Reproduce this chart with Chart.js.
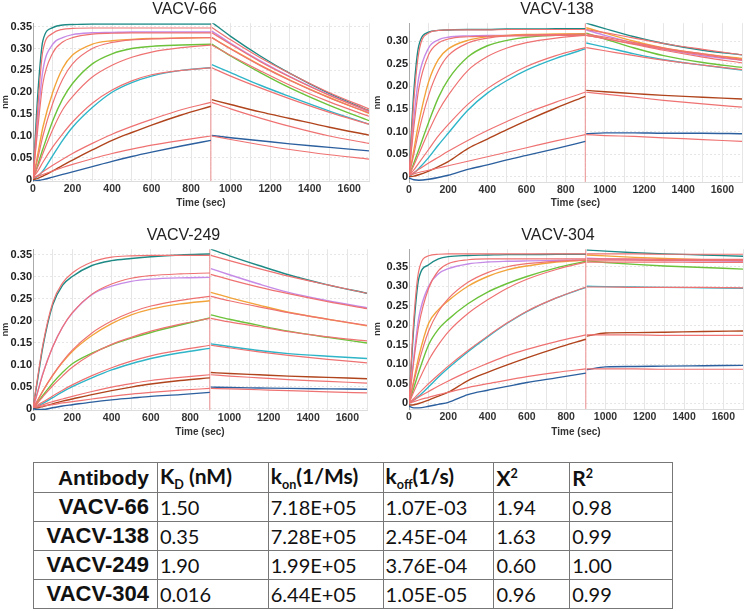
<!DOCTYPE html>
<html>
<head>
<meta charset="utf-8">
<script src="https://cdn.jsdelivr.net/npm/chart.js@4.4.1/dist/chart.umd.min.js"></script>
<style>
  body { margin: 0; background: #fff; width: 745px; height: 611px; position: relative; overflow: hidden; }
  canvas { position: absolute; }
  #c66 { left: 0; top: 0; }
  #c138 { left: 372px; top: 0; }
  #c249 { left: 0; top: 226px; }
  #c304 { left: 372px; top: 226px; }
  table { position: absolute; left: 33px; top: 462px; width: 640px; border-collapse: collapse; }
  td { border: 1px solid #777; height: 28px; padding: 0 0 0 2px; font-family: Lato, "Open Sans", sans-serif; font-size: 20px; color: #111; vertical-align: middle; white-space: nowrap; }
  td.ab { font-family: "Liberation Sans", Arial, sans-serif; font-weight: bold; font-size: 22px; text-align: right; padding: 0 8px 0 0; }
  tr.head td { font-weight: bold; font-size: 21px; height: 29px; }
  sub, sup { font-size: 60%; }
</style>
</head>
<body>
<canvas id="c66" width="372" height="212"></canvas>
<canvas id="c138" width="373" height="212"></canvas>
<canvas id="c249" width="372" height="215"></canvas>
<canvas id="c304" width="373" height="215"></canvas>

<table>
  <colgroup>
    <col style="width:124px"><col style="width:111px"><col style="width:115px">
    <col style="width:111px"><col style="width:76px"><col style="width:103px">
  </colgroup>
  <tr class="head"><td class="ab">Antibody</td><td>K<sub>D</sub> (nM)</td><td>k<sub>on</sub>(1/Ms)</td><td>k<sub>off</sub>(1/s)</td><td>X<sup>2</sup></td><td>R<sup>2</sup></td></tr>
  <tr><td class="ab">VACV-66</td><td>1.50</td><td>7.18E+05</td><td>1.07E-03</td><td>1.94</td><td>0.98</td></tr>
  <tr><td class="ab">VACV-138</td><td>0.35</td><td>7.28E+05</td><td>2.45E-04</td><td>1.63</td><td>0.99</td></tr>
  <tr><td class="ab">VACV-249</td><td>1.90</td><td>1.99E+05</td><td>3.76E-04</td><td>0.60</td><td>1.00</td></tr>
  <tr><td class="ab">VACV-304</td><td>0.016</td><td>6.44E+05</td><td>1.05E-05</td><td>0.96</td><td>0.99</td></tr>
</table>

<script>
// time points (sec): association then dissociation
const assocTimes = [0, 25, 50, 100, 150, 200, 300, 400, 500, 600, 750, 900];
const dissocTimes = [905, 1000, 1150, 1300, 1500, 1700];

// curve colours, lowest to highest concentration
const curveColors = ['#2b5f9e', '#b0441c', '#2fb5c8', '#6cc23a', '#f2a33a', '#c58be6', '#1e8a86'];
const fitColor = '#ef7272';

// measured responses (nm): blue, brown, cyan, green, orange, purple, teal
const vacv66Obs = [
  [-0.003, -0.002, 0.000, 0.006, 0.012, 0.018, 0.030, 0.042, 0.053, 0.063, 0.077, 0.090, 0.101, 0.096, 0.089, 0.082, 0.074, 0.066],
  [0.000, 0.003, 0.008, 0.020, 0.033, 0.045, 0.068, 0.090, 0.108, 0.125, 0.148, 0.168, 0.183, 0.172, 0.155, 0.140, 0.120, 0.102],
  [0.000, 0.008, 0.020, 0.055, 0.090, 0.120, 0.165, 0.200, 0.222, 0.237, 0.250, 0.256, 0.263, 0.245, 0.216, 0.190, 0.157, 0.127],
  [0.000, 0.035, 0.070, 0.135, 0.185, 0.220, 0.265, 0.288, 0.300, 0.305, 0.308, 0.310, 0.310, 0.283, 0.245, 0.210, 0.170, 0.135],
  [0.000, 0.060, 0.120, 0.200, 0.255, 0.285, 0.310, 0.318, 0.321, 0.323, 0.324, 0.325, 0.325, 0.300, 0.262, 0.228, 0.188, 0.152],
  [0.000, 0.140, 0.250, 0.310, 0.325, 0.332, 0.336, 0.337, 0.338, 0.338, 0.338, 0.338, 0.340, 0.312, 0.272, 0.236, 0.194, 0.156],
  [0.000, 0.200, 0.318, 0.348, 0.354, 0.355, 0.356, 0.356, 0.356, 0.356, 0.356, 0.356, 0.360, 0.328, 0.283, 0.243, 0.197, 0.158]
];
const vacv66Fit = [
  [0.004, 0.008, 0.012, 0.020, 0.028, 0.035, 0.048, 0.060, 0.070, 0.079, 0.090, 0.100, 0.100, 0.092, 0.080, 0.069, 0.057, 0.047],
  [0.003, 0.010, 0.018, 0.033, 0.047, 0.060, 0.083, 0.104, 0.122, 0.138, 0.160, 0.177, 0.177, 0.162, 0.141, 0.122, 0.100, 0.083],
  [0.005, 0.020, 0.040, 0.075, 0.105, 0.132, 0.175, 0.205, 0.226, 0.240, 0.250, 0.256, 0.256, 0.237, 0.210, 0.185, 0.154, 0.127],
  [0.005, 0.030, 0.060, 0.115, 0.160, 0.190, 0.235, 0.262, 0.280, 0.292, 0.302, 0.308, 0.308, 0.284, 0.249, 0.216, 0.178, 0.145],
  [0.005, 0.050, 0.100, 0.175, 0.230, 0.265, 0.300, 0.314, 0.320, 0.322, 0.324, 0.325, 0.325, 0.299, 0.261, 0.227, 0.187, 0.153],
  [0.005, 0.120, 0.220, 0.290, 0.315, 0.325, 0.333, 0.335, 0.336, 0.336, 0.336, 0.336, 0.336, 0.310, 0.270, 0.235, 0.193, 0.157],
  [0.005, 0.170, 0.295, 0.335, 0.344, 0.346, 0.347, 0.347, 0.347, 0.347, 0.347, 0.347, 0.348, 0.320, 0.279, 0.243, 0.199, 0.162]
];

const vacv138Obs = [
  [-0.003, -0.007, -0.008, -0.006, -0.002, 0.003, 0.016, 0.026, 0.037, 0.047, 0.062, 0.078, 0.095, 0.097, 0.097, 0.096, 0.096, 0.095],
  [0.000, 0.001, 0.004, 0.012, 0.022, 0.033, 0.062, 0.083, 0.104, 0.124, 0.152, 0.178, 0.191, 0.188, 0.184, 0.180, 0.176, 0.172],
  [0.000, 0.008, 0.018, 0.042, 0.070, 0.096, 0.147, 0.185, 0.213, 0.236, 0.262, 0.283, 0.296, 0.287, 0.272, 0.259, 0.247, 0.236],
  [0.000, 0.030, 0.060, 0.120, 0.175, 0.215, 0.265, 0.290, 0.302, 0.309, 0.313, 0.315, 0.318, 0.305, 0.285, 0.268, 0.253, 0.242],
  [0.000, 0.060, 0.120, 0.210, 0.260, 0.283, 0.302, 0.310, 0.313, 0.315, 0.316, 0.317, 0.330, 0.318, 0.300, 0.285, 0.272, 0.262],
  [0.000, 0.130, 0.220, 0.285, 0.303, 0.309, 0.312, 0.313, 0.313, 0.314, 0.314, 0.314, 0.325, 0.313, 0.296, 0.282, 0.268, 0.258],
  [0.000, 0.190, 0.290, 0.320, 0.324, 0.325, 0.326, 0.326, 0.327, 0.327, 0.328, 0.328, 0.340, 0.328, 0.310, 0.295, 0.280, 0.270]
];
const vacv138Fit = [
  [0.003, 0.006, 0.009, 0.014, 0.019, 0.024, 0.034, 0.044, 0.054, 0.064, 0.079, 0.093, 0.093, 0.091, 0.089, 0.086, 0.082, 0.078],
  [0.003, 0.009, 0.016, 0.030, 0.043, 0.056, 0.080, 0.102, 0.122, 0.141, 0.165, 0.187, 0.187, 0.183, 0.176, 0.169, 0.161, 0.154],
  [0.004, 0.015, 0.030, 0.060, 0.090, 0.115, 0.160, 0.195, 0.222, 0.244, 0.268, 0.286, 0.286, 0.279, 0.268, 0.258, 0.247, 0.237],
  [0.004, 0.025, 0.050, 0.100, 0.145, 0.180, 0.235, 0.266, 0.285, 0.297, 0.307, 0.313, 0.313, 0.306, 0.293, 0.280, 0.265, 0.252],
  [0.004, 0.050, 0.100, 0.180, 0.235, 0.268, 0.296, 0.307, 0.312, 0.314, 0.315, 0.316, 0.316, 0.309, 0.297, 0.285, 0.272, 0.260],
  [0.004, 0.110, 0.195, 0.270, 0.296, 0.305, 0.310, 0.311, 0.312, 0.312, 0.313, 0.313, 0.313, 0.306, 0.294, 0.283, 0.270, 0.258],
  [0.004, 0.170, 0.275, 0.318, 0.324, 0.325, 0.325, 0.325, 0.326, 0.326, 0.326, 0.326, 0.326, 0.319, 0.307, 0.295, 0.282, 0.270]
];

const vacv249Obs = [
  [0.000, -0.002, -0.002, 0.002, 0.006, 0.009, 0.015, 0.020, 0.024, 0.028, 0.032, 0.037, 0.049, 0.048, 0.047, 0.046, 0.045, 0.044],
  [0.000, 0.002, 0.005, 0.011, 0.017, 0.022, 0.032, 0.041, 0.049, 0.056, 0.064, 0.070, 0.082, 0.080, 0.077, 0.074, 0.071, 0.068],
  [0.000, 0.006, 0.012, 0.025, 0.038, 0.050, 0.070, 0.088, 0.102, 0.114, 0.127, 0.137, 0.147, 0.141, 0.132, 0.125, 0.119, 0.114],
  [0.000, 0.015, 0.030, 0.058, 0.082, 0.102, 0.126, 0.145, 0.160, 0.173, 0.190, 0.206, 0.213, 0.203, 0.189, 0.176, 0.162, 0.149],
  [0.000, 0.020, 0.040, 0.075, 0.105, 0.130, 0.166, 0.193, 0.213, 0.226, 0.238, 0.245, 0.264, 0.252, 0.235, 0.219, 0.203, 0.188],
  [0.000, 0.040, 0.080, 0.140, 0.185, 0.217, 0.259, 0.278, 0.289, 0.294, 0.297, 0.298, 0.318, 0.304, 0.283, 0.264, 0.245, 0.229],
  [0.000, 0.070, 0.140, 0.235, 0.280, 0.300, 0.325, 0.336, 0.341, 0.345, 0.349, 0.351, 0.362, 0.347, 0.325, 0.304, 0.281, 0.262]
];
const vacv249Fit = [
  [0.003, 0.004, 0.006, 0.009, 0.013, 0.016, 0.022, 0.028, 0.033, 0.037, 0.042, 0.046, 0.046, 0.045, 0.043, 0.041, 0.038, 0.036],
  [0.003, 0.006, 0.009, 0.016, 0.022, 0.028, 0.039, 0.049, 0.057, 0.064, 0.071, 0.077, 0.077, 0.074, 0.070, 0.066, 0.062, 0.058],
  [0.003, 0.009, 0.015, 0.029, 0.042, 0.054, 0.075, 0.093, 0.108, 0.120, 0.133, 0.144, 0.144, 0.138, 0.129, 0.121, 0.112, 0.104],
  [0.003, 0.014, 0.027, 0.052, 0.074, 0.094, 0.124, 0.146, 0.162, 0.176, 0.192, 0.205, 0.205, 0.197, 0.186, 0.175, 0.163, 0.154],
  [0.003, 0.020, 0.040, 0.076, 0.107, 0.133, 0.172, 0.199, 0.219, 0.233, 0.246, 0.255, 0.255, 0.245, 0.231, 0.218, 0.203, 0.189],
  [0.003, 0.040, 0.078, 0.140, 0.185, 0.218, 0.260, 0.283, 0.296, 0.302, 0.306, 0.308, 0.305, 0.293, 0.276, 0.261, 0.243, 0.227],
  [0.003, 0.075, 0.145, 0.240, 0.285, 0.308, 0.333, 0.344, 0.347, 0.348, 0.348, 0.348, 0.348, 0.336, 0.318, 0.301, 0.281, 0.262]
];

const vacv304Obs = [
  [-0.008, -0.012, -0.012, -0.008, -0.003, 0.002, 0.022, 0.033, 0.043, 0.053, 0.065, 0.077, 0.086, 0.093, 0.094, 0.095, 0.096, 0.097],
  [-0.005, -0.004, -0.001, 0.008, 0.018, 0.028, 0.058, 0.079, 0.098, 0.116, 0.141, 0.164, 0.172, 0.180, 0.181, 0.182, 0.184, 0.185],
  [0.000, 0.008, 0.018, 0.042, 0.067, 0.090, 0.132, 0.170, 0.205, 0.235, 0.270, 0.297, 0.300, 0.299, 0.298, 0.297, 0.296, 0.295],
  [0.000, 0.040, 0.080, 0.150, 0.190, 0.215, 0.255, 0.285, 0.307, 0.325, 0.347, 0.364, 0.365, 0.361, 0.356, 0.352, 0.348, 0.344],
  [0.000, 0.060, 0.120, 0.205, 0.240, 0.263, 0.300, 0.325, 0.342, 0.352, 0.362, 0.367, 0.380, 0.378, 0.374, 0.371, 0.368, 0.366],
  [0.000, 0.120, 0.220, 0.300, 0.332, 0.345, 0.357, 0.362, 0.364, 0.365, 0.366, 0.367, 0.372, 0.370, 0.368, 0.366, 0.365, 0.364],
  [0.000, 0.200, 0.320, 0.355, 0.370, 0.376, 0.379, 0.380, 0.381, 0.381, 0.382, 0.382, 0.393, 0.390, 0.386, 0.383, 0.380, 0.377]
];
const vacv304Fit = [
  [0.000, 0.004, 0.008, 0.015, 0.022, 0.028, 0.040, 0.050, 0.059, 0.068, 0.079, 0.088, 0.088, 0.088, 0.088, 0.087, 0.087, 0.087],
  [0.000, 0.008, 0.016, 0.030, 0.044, 0.057, 0.081, 0.102, 0.122, 0.138, 0.158, 0.175, 0.175, 0.175, 0.175, 0.174, 0.174, 0.174],
  [0.000, 0.012, 0.025, 0.050, 0.073, 0.095, 0.135, 0.172, 0.206, 0.236, 0.270, 0.298, 0.298, 0.298, 0.297, 0.297, 0.297, 0.296],
  [0.000, 0.030, 0.058, 0.110, 0.150, 0.183, 0.230, 0.265, 0.295, 0.318, 0.343, 0.362, 0.362, 0.362, 0.362, 0.362, 0.361, 0.361],
  [0.000, 0.055, 0.105, 0.185, 0.235, 0.268, 0.310, 0.335, 0.350, 0.358, 0.364, 0.367, 0.367, 0.367, 0.367, 0.366, 0.366, 0.366],
  [0.000, 0.110, 0.200, 0.295, 0.340, 0.358, 0.368, 0.370, 0.370, 0.370, 0.370, 0.370, 0.370, 0.370, 0.370, 0.369, 0.369, 0.369],
  [0.000, 0.220, 0.340, 0.378, 0.382, 0.383, 0.383, 0.383, 0.383, 0.383, 0.383, 0.383, 0.383, 0.383, 0.383, 0.382, 0.382, 0.382]
];

// y tick labels
const yTickLabels = ['0', '0.05', '0.10', '0.15', '0.20', '0.25', '0.30', '0.35'];

const panels = [
  { id: 'c66', title: 'VACV-66', obs: vacv66Obs, fit: vacv66Fit, yMin: -0.003, yMax: 0.358, yW: 33, xH: 31, padR: 3 },
  { id: 'c138', title: 'VACV-138', obs: vacv138Obs, fit: vacv138Fit, yMin: -0.012, yMax: 0.34, yW: 37, xH: 30, padR: 3 },
  { id: 'c249', title: 'VACV-249', obs: vacv249Obs, fit: vacv249Fit, yMin: -0.003, yMax: 0.362, yW: 33, xH: 31, padR: 5 },
  { id: 'c304', title: 'VACV-304', obs: vacv304Obs, fit: vacv304Fit, yMin: -0.015, yMax: 0.395, yW: 37, xH: 32, padR: 1 }
];

// build {x,y} points with a break between association and dissociation
function toPoints(values) {
  const pts = [];
  assocTimes.forEach((t, i) => pts.push({ x: t, y: values[i] }));
  pts.push({ x: 902, y: null });
  dissocTimes.forEach((t, i) => pts.push({ x: t, y: values[assocTimes.length + i] }));
  return pts;
}

function drawPanel(p) {
  const datasets = [];
  p.fit.forEach((vals) => {
    datasets.push({ data: toPoints(vals), borderColor: fitColor, borderWidth: 1.2, order: 0 });
  });
  p.obs.forEach((vals, i) => {
    datasets.push({ data: toPoints(vals), borderColor: curveColors[i], borderWidth: 1.4, order: 1 });
  });
  // association / dissociation boundary
  datasets.push({ data: [{ x: 900, y: p.yMin }, { x: 900, y: p.yMax }], borderColor: '#f09090', borderWidth: 1, order: 2 });

  new Chart(document.getElementById(p.id), {
    type: 'line',
    data: { datasets: datasets },
    options: {
      responsive: false,
      animation: false,
      devicePixelRatio: 1,
      spanGaps: false,
      layout: { padding: { left: 0, right: p.padR, top: 0, bottom: 0 } },
      elements: {
        point: { radius: 0 },
        line: { cubicInterpolationMode: 'monotone', fill: false }
      },
      plugins: {
        legend: { display: false },
        tooltip: { enabled: false },
        title: {
          display: true,
          text: p.title,
          color: '#222',
          font: { family: 'Liberation Sans', size: 16, weight: 'normal' },
          padding: { top: 0, bottom: 4 }
        }
      },
      scales: {
        x: {
          type: 'linear',
          min: 0,
          max: 1700,
          afterFit: (scale) => { scale.height = p.xH; },
          grid: { color: '#e6e6e6', drawTicks: false },
          border: { display: true, color: '#dddddd' },
          ticks: {
            stepSize: 100,
            autoSkip: false,
            maxRotation: 0,
            includeBounds: false,
            padding: 2,
            color: '#333',
            font: { family: 'Liberation Sans', size: 10.5, weight: 'bold' },
            callback: (v) => (v % 200 === 0 ? String(v) : '')
          },
          title: {
            display: true,
            text: 'Time (sec)',
            color: '#333',
            font: { family: 'Liberation Sans', size: 10, weight: 'bold' },
            padding: { top: 0, bottom: 3 }
          }
        },
        y: {
          min: p.yMin,
          max: p.yMax,
          afterFit: (scale) => { scale.width = p.yW; },
          grid: { color: '#e6e6e6', drawTicks: false },
          border: { display: true, color: '#aaaaaa', dash: [2, 2] },
          ticks: {
            stepSize: 0.05,
            includeBounds: false,
            padding: 1,
            color: '#222',
            font: { family: 'Liberation Sans', size: 11, weight: 'bold' },
            callback: (v) => yTickLabels[Math.round(v / 0.05)]
          },
          title: {
            display: true,
            text: 'nm',
            color: '#333',
            font: { family: 'Liberation Sans', size: 9, weight: 'bold' },
            padding: 0
          }
        }
      }
    }
  });
}

panels.forEach(drawPanel);
</script>
</body>
</html>
